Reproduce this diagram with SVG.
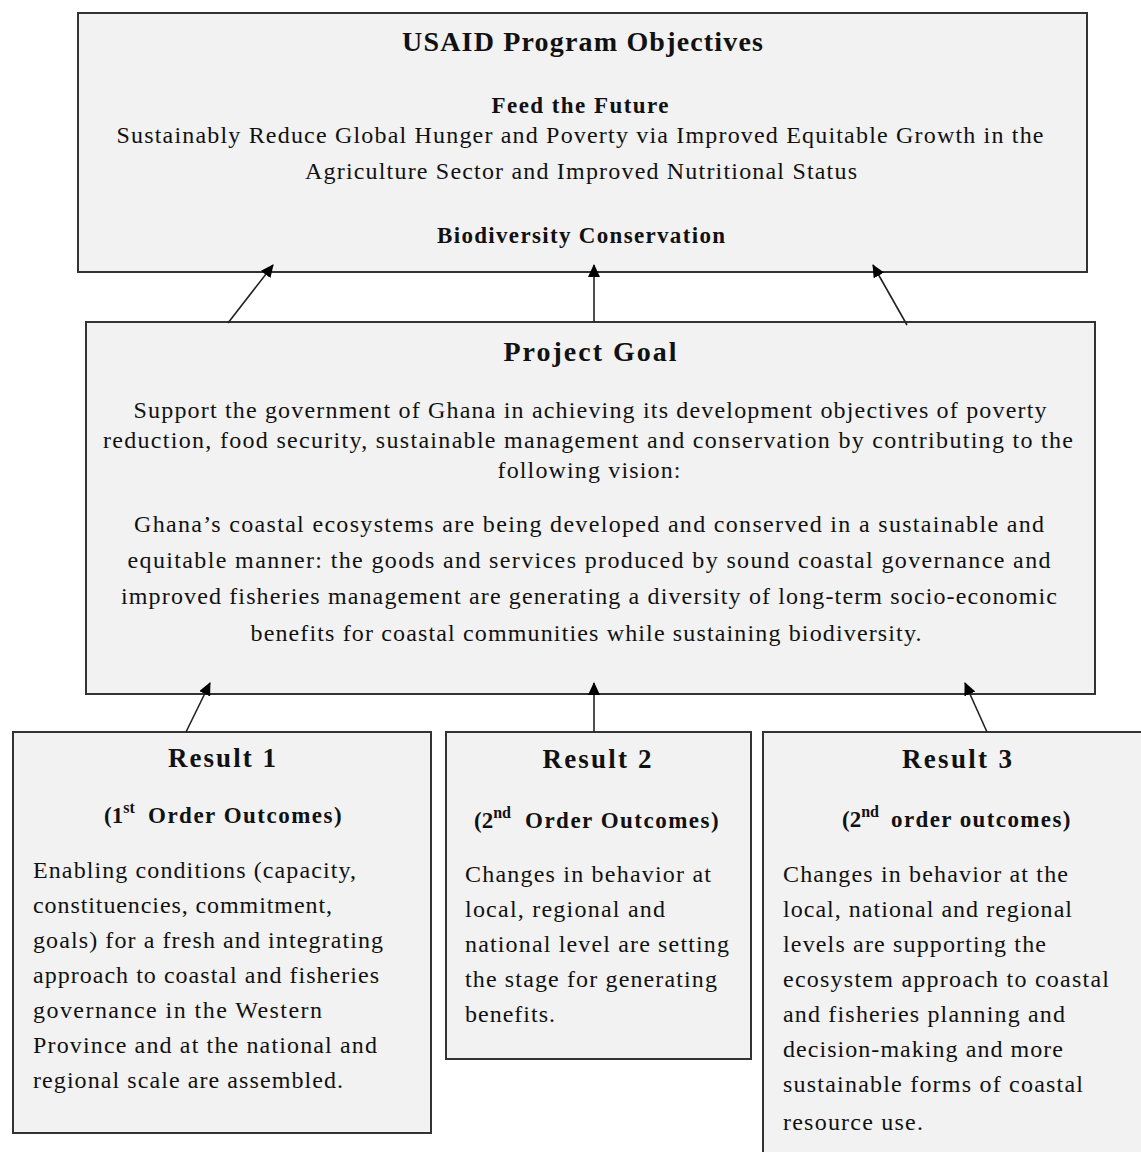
<svg xmlns="http://www.w3.org/2000/svg" width="1141" height="1152" viewBox="0 0 1141 1152">
<style>
.box{fill:#f2f2f2;stroke:#333;stroke-width:2}
.t{font-family:"Liberation Serif","Times New Roman",serif;fill:#111}
.h1{font-size:28px;font-weight:bold}
.h2{font-size:23px;font-weight:bold}
.h3{font-size:27px;font-weight:bold}
.h4{font-size:23px;font-weight:bold}
.sup{font-size:16px}
.b{font-size:24px}
.c{text-anchor:middle}
.conn{stroke:#222;stroke-width:1.6;fill:none}
</style>
<defs>
<marker id="ah" markerUnits="userSpaceOnUse" markerWidth="13" markerHeight="12" refX="12" refY="6" orient="auto">
<path d="M0,0 L13,6 L0,12 z" fill="#000"/>
</marker>
</defs>
<rect width="1141" height="1152" fill="#fff"/>

<g id="usaid">
<rect class="box" x="78" y="13" width="1009" height="259"/>
<text class="t h1 c" x="582.5" y="51" textLength="361">USAID Program Objectives</text>
<text class="t h2 c" x="580" y="113" textLength="177">Feed the Future</text>
<text class="t b c" x="580" y="143" textLength="927">Sustainably Reduce Global Hunger and Poverty via Improved Equitable Growth in the</text>
<text class="t b c" x="581" y="179" textLength="552">Agriculture Sector and Improved Nutritional Status</text>
<text class="t h2 c" x="581" y="243" textLength="288">Biodiversity Conservation</text>
</g>

<g id="goal">
<rect class="box" x="86" y="322" width="1009" height="372"/>
<text class="t h1 c" x="590" y="361" textLength="173">Project Goal</text>
<text class="t b c" x="590" y="418" textLength="913">Support the government of Ghana in achieving its development objectives of poverty</text>
<text class="t b c" x="588" y="448" textLength="970">reduction, food security, sustainable management and conservation by contributing to the</text>
<text class="t b c" x="589" y="478" textLength="183">following vision:</text>
<text class="t b c" x="589" y="532" textLength="910">Ghana’s coastal ecosystems are being developed and conserved in a sustainable and</text>
<text class="t b c" x="589" y="568" textLength="923">equitable manner: the goods and services produced by sound coastal governance and</text>
<text class="t b c" x="589" y="604" textLength="936">improved fisheries management are generating a diversity of long-term socio-economic</text>
<text class="t b c" x="586" y="641" textLength="671">benefits for coastal communities while sustaining biodiversity.</text>
</g>

<g id="result1">
<rect class="box" x="13" y="732" width="418" height="401"/>
<text class="t h3 c" x="222" y="767" textLength="108">Result 1</text>
<text class="t h4" x="104" y="823">(1<tspan class="sup" dy="-10">st</tspan><tspan dy="10" x="148" letter-spacing="1.5">Order Outcomes)</tspan></text>
<text class="t b" x="33" y="878" textLength="323">Enabling conditions (capacity,</text>
<text class="t b" x="33" y="913" textLength="299">constituencies, commitment,</text>
<text class="t b" x="33" y="948" textLength="350">goals) for a fresh and integrating</text>
<text class="t b" x="33" y="983" textLength="346">approach to coastal and fisheries</text>
<text class="t b" x="33" y="1018" textLength="289">governance in the Western</text>
<text class="t b" x="33" y="1053" textLength="344">Province and at the national and</text>
<text class="t b" x="33" y="1088" textLength="310">regional scale are assembled.</text>
</g>

<g id="result2">
<rect class="box" x="446" y="732" width="305" height="327"/>
<text class="t h3 c" x="597" y="768" textLength="109">Result 2</text>
<text class="t h4" x="474" y="828">(2<tspan class="sup" dy="-10">nd</tspan><tspan dy="10" x="525" letter-spacing="1.5">Order Outcomes)</tspan></text>
<text class="t b" x="465" y="882" textLength="246">Changes in behavior at</text>
<text class="t b" x="465" y="917" textLength="200">local, regional and</text>
<text class="t b" x="465" y="952" textLength="264">national level are setting</text>
<text class="t b" x="465" y="987" textLength="252">the stage for generating</text>
<text class="t b" x="465" y="1022" textLength="90">benefits.</text>
</g>

<g id="result3">
<rect class="box" x="763" y="732" width="400" height="440"/>
<text class="t h3 c" x="957" y="768" textLength="110">Result 3</text>
<text class="t h4" x="842" y="827">(2<tspan class="sup" dy="-10">nd</tspan><tspan dy="10" x="891" letter-spacing="1.4">order outcomes)</tspan></text>
<text class="t b" x="783" y="882" textLength="285">Changes in behavior at the</text>
<text class="t b" x="783" y="917" textLength="289">local, national and regional</text>
<text class="t b" x="783" y="952" textLength="263">levels are supporting the</text>
<text class="t b" x="783" y="987" textLength="326">ecosystem approach to coastal</text>
<text class="t b" x="783" y="1022" textLength="282">and fisheries planning and</text>
<text class="t b" x="783" y="1057" textLength="280">decision-making and more</text>
<text class="t b" x="783" y="1092" textLength="300">sustainable forms of coastal</text>
<text class="t b" x="783" y="1130" textLength="140">resource use.</text>
</g>

<g id="connectors">
<line class="conn" x1="228" y1="323" x2="273" y2="265" marker-end="url(#ah)"/>
<line class="conn" x1="594" y1="322" x2="594" y2="265" marker-end="url(#ah)"/>
<line class="conn" x1="907" y1="325" x2="873" y2="265" marker-end="url(#ah)"/>
<line class="conn" x1="186" y1="732" x2="210" y2="683" marker-end="url(#ah)"/>
<line class="conn" x1="594" y1="732" x2="594" y2="683" marker-end="url(#ah)"/>
<line class="conn" x1="987" y1="732" x2="965" y2="683" marker-end="url(#ah)"/>
</g>
</svg>
